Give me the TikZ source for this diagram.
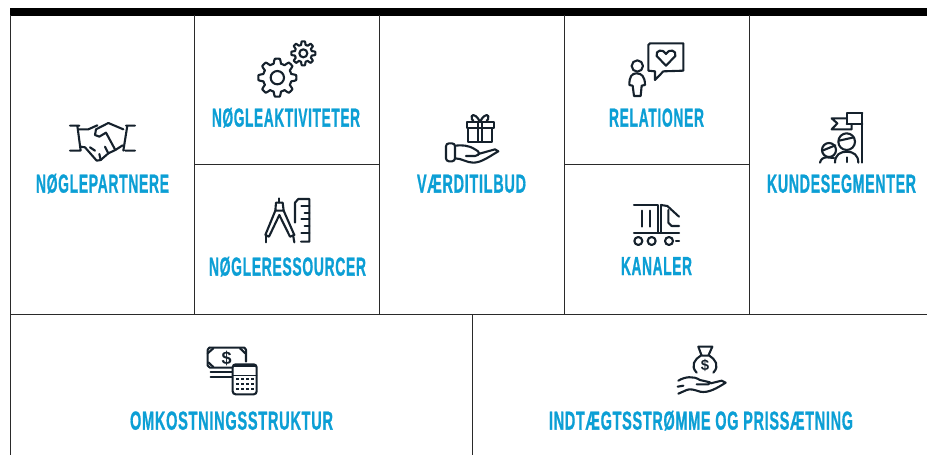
\documentclass[tikz,border=0pt]{standalone}
\usepackage{fontspec}
\setmainfont{Liberation Sans}
\usepackage{graphicx}
\definecolor{labelblue}{HTML}{0C9FD5}
\definecolor{icondark}{HTML}{15212C}
\definecolor{gridline}{HTML}{2A2A2A}
\newcommand{\fitlabel}[2]{\resizebox{#1pt}{\height}{\fontsize{26pt}{26pt}\selectfont\bfseries\addfontfeature{LetterSpace=5,FakeBold=1.2}#2}}
\newcommand{\gearshape}[5]{%
  \draw[iconline] plot[domain=0:360,samples=145] ({#1+(#3+#4*max(-1,min(1,2.2*cos(8*\x))))*cos(\x)},{#2+(#3+#4*max(-1,min(1,2.2*cos(8*\x))))*sin(\x)}) -- cycle;
  \draw[iconline] (#1,#2) circle (#5);}
\tikzset{
  gridrule/.style={draw=gridline,line width=1pt},
  toprule/.style={fill=black,draw=none},
  catlabel/.style={anchor=base,inner sep=0pt,text=labelblue},
  iconline/.style={draw=icondark,line width=2.1pt,line cap=round,line join=round,fill=none},
  iconthin/.style={iconline,line width=1.3pt},
  cropunits/.style={x=0.33333pt,y=-0.33333pt},
}
\begin{document}
\begin{tikzpicture}[x=1pt,y=-1pt]
\useasboundingbox (0,0) rectangle (927,455);
\fill[white] (0,0) rectangle (927,455);
% frame
\fill[toprule] (10,8) rectangle (927,15.5);
\draw[gridrule] (10.5,15) -- (10.5,455);
\draw[gridrule] (194.7,15) -- (194.7,314.5);
\draw[gridrule] (379.7,15) -- (379.7,314.5);
\draw[gridrule] (564.5,15) -- (564.5,314.5);
\draw[gridrule] (749.5,15) -- (749.5,314.5);
\draw[gridrule] (195,164.5) -- (380,164.5);
\draw[gridrule] (564.5,164.5) -- (749.5,164.5);
\draw[gridrule] (10,314.5) -- (927,314.5);
\draw[gridrule] (472.5,314.5) -- (472.5,455);
% labels
\node[catlabel] (partnere) at (102.5,192.6) {\fitlabel{133}{NØGLEPARTNERE}};
\node[catlabel] (aktiviteter) at (286,126.6) {\fitlabel{148}{NØGLEAKTIVITETER}};
\node[catlabel] (ressourcer) at (287.5,275.6) {\fitlabel{157}{NØGLERESSOURCER}};
\node[catlabel] (vaerdi) at (471.5,192.6) {\fitlabel{109}{VÆRDITILBUD}};
\node[catlabel] (relationer) at (656.5,126.6) {\fitlabel{95}{RELATIONER}};
\node[catlabel] (kanaler) at (656.5,275) {\fitlabel{71}{KANALER}};
\node[catlabel] (kunde) at (841.5,192.6) {\fitlabel{149}{KUNDESEGMENTER}};
\node[catlabel] (omkost) at (231.5,429.6) {\fitlabel{203}{OMKOSTNINGSSTRUKTUR}};
\node[catlabel] (indtaegt) at (701,429.6) {\fitlabel{304}{INDTÆGTSSTRØMME OG PRISSÆTNING}};
% handshake + gears
\begin{scope}[shift={(40,30)},cropunits]
  \draw[iconline] (90,287) -- (118,287) (90,362) -- (120,362) (112,287) -- (122,362);
  \draw[iconline] (285,287) -- (258,287) (285,362) -- (256,362) (262,287) -- (250,362);
  \draw[iconline] (118,298) -- (145,298) -- (172,286);
  \draw[iconline] (250,298) -- (205,279) -- (168,298) -- (165,315) -- (178,320) -- (198,308) -- (226,360);
  \draw[iconline] (122,350) -- (135,352) -- (170,392) -- (182,390) -- (178,372);
  \draw[iconline] (182,390) -- (205,370) -- (195,350);
  \draw[iconline] (205,370) -- (226,360) -- (248,346);
  \draw[iconline] (150,352) -- (165,362);
  \gearshape{712}{143}{50}{7}{20}
  \gearshape{790}{70}{31}{5}{12}
\end{scope}
% compass + ruler
\begin{scope}[shift={(200,180)},cropunits]
  \draw[iconline] (238,55) -- (238,68);
  \draw[iconline] (228,68) -- (248,68) -- (251,92) -- (226,92) -- cycle;
  \draw[iconline] (226,92) -- (196,165) -- (207,170) -- (238,105) -- (270,170) -- (283,165) -- (251,92);
  \draw[iconline] (197,165) -- (197,187);
  \draw[iconline] (280,170) -- (283,187);
  \draw[iconline] (285,128) -- (285,68) -- (295,57) -- (328,57) -- (328,185) -- (303,185);
  \draw[iconline] (328,78) -- (304,78) (328,98) -- (314,98) (328,118) -- (304,118) (328,138) -- (314,138) (328,158) -- (304,158);
\end{scope}
% gift + hand
\begin{scope}[shift={(410,30)},cropunits]
  \draw[iconline] (170,275) rectangle (252,295);
  \draw[iconline] (175,295) -- (175,335) -- (245,335) -- (245,295);
  \draw[iconline] (203,275) -- (203,335) (217,275) -- (217,335);
  \draw[iconline] (208,272) .. controls (195,248) and (180,252) .. (186,268) -- (190,272);
  \draw[iconline] (212,272) .. controls (225,248) and (240,252) .. (234,268) -- (230,272);
  \draw[iconline,rounded corners=3pt] (108,340) rectangle (135,394);
  \draw[iconline] (135,347) .. controls (155,345) and (175,345) .. (195,358) .. controls (210,365) and (212,375) .. (195,378) -- (168,378);
  \draw[iconline] (205,372) -- (255,358) -- (265,364) .. controls (240,378) and (215,398) .. (190,398) .. controls (170,398) and (155,385) .. (135,385);
  % person + speech bubble
  \draw[iconline] (682,108) circle (17);
  \draw[iconline] (680,130) .. controls (695,130) and (705,140) .. (705,165) -- (695,167) -- (692,198) -- (672,198) -- (668,167) -- (658,165) .. controls (658,140) and (665,130) .. (680,130) -- cycle;
  \draw[iconline] (720,40) -- (820,40) -- (820,122) -- (760,124) -- (735,150) -- (735,124) -- (715,122) -- (715,45) -- cycle;
  \draw[iconline] (768,107) -- (740,78) .. controls (735,60) and (760,55) .. (768,72) .. controls (776,55) and (801,60) .. (796,78) -- cycle;
\end{scope}
% truck + customers
\begin{scope}[shift={(610,100)},cropunits]
  \draw[iconline] (72,315) -- (143,315) -- (143,398);
  \draw[iconline] (97,332) -- (97,380) (120,332) -- (120,380);
  \draw[iconline] (72,398) -- (207,398);
  \draw[iconline] (85,423) circle (12) (125,423) circle (12) (177,423) circle (12);
  \draw[iconline] (198,423) -- (207,423);
  \draw[iconline] (153,315) -- (153,398);
  \draw[iconline] (153,315) -- (172,318) -- (207,350);
  \draw[iconline] (175,330) -- (175,368) -- (185,378) -- (207,378);
  % customers
  \draw[iconline] (757,40) -- (757,188);
  \draw[iconline] (710,72) -- (710,40) -- (757,40) (710,72) -- (757,72);
  \draw[iconline] (708,55) -- (665,55) -- (682,70) -- (665,88) -- (725,88) -- (725,72);
  \draw[iconline] (710,125) circle (25);
  \draw[iconline] (687,122) -- (732,112);
  \draw[iconline] (675,188) .. controls (675,165) and (690,155) .. (710,155) .. controls (730,155) and (745,165) .. (745,188);
  \draw[iconline] (710,172) -- (710,186);
  \draw[iconline] (657,150) circle (21);
  \draw[iconline] (637,152) -- (676,136);
  \draw[iconline] (630,188) .. controls (632,178) and (640,172) .. (650,172) -- (672,174);
\end{scope}
% banknotes + calculator
\begin{scope}[shift={(120,335)},cropunits]
  \draw[iconline] (268,38) -- (373,38) -- (378,44) -- (378,80);
  \draw[iconline] (263,44) -- (268,38) (263,44) -- (263,92) -- (270,98) -- (335,98);
  \draw[iconline] (263,55) -- (280,40) (360,40) -- (376,55) (265,82) -- (280,96);
  \draw[iconline] (272,112) -- (335,112) (272,125) -- (335,125);
  \node[inner sep=0pt,text=icondark,font=\bfseries\fontsize{18pt}{18pt}\selectfont] (billsign) at (320,70) {\$};
  \draw[iconline,rounded corners=3pt] (338,88) rectangle (410,178);
  \fill[icondark] (338,90) rectangle (410,96);
  \draw[iconthin] (338,122) -- (410,122);
  \foreach \yy in {132,147,162} \foreach \xx in {352,367,382,397}
    \fill[icondark] (\xx-4,\yy-3) rectangle (\xx+4,\yy+3);
\end{scope}
% money bag + hand
\begin{scope}[shift={(540,335)},cropunits]
  \draw[iconline] (475,35) -- (517,35) -- (505,62) -- (485,62) -- cycle;
  \draw[iconline] (482,62) .. controls (465,72) and (450,92) .. (470,113);
  \draw[iconline] (508,62) .. controls (525,72) and (540,92) .. (520,113);
  \node[inner sep=0pt,text=icondark,font=\bfseries\fontsize{15pt}{15pt}\selectfont] (bagsign) at (495,90) {\$};
  \draw[iconline] (415,137) .. controls (435,125) and (460,122) .. (480,135) -- (510,142) -- (505,148) -- (470,148);
  \draw[iconline] (512,145) -- (545,137) -- (557,143) .. controls (530,160) and (505,175) .. (480,170) .. controls (465,165) and (450,160) .. (440,165) -- (415,176);
  \draw[iconline] (413,155) -- (430,152);
\end{scope}
\end{tikzpicture}
\end{document}
